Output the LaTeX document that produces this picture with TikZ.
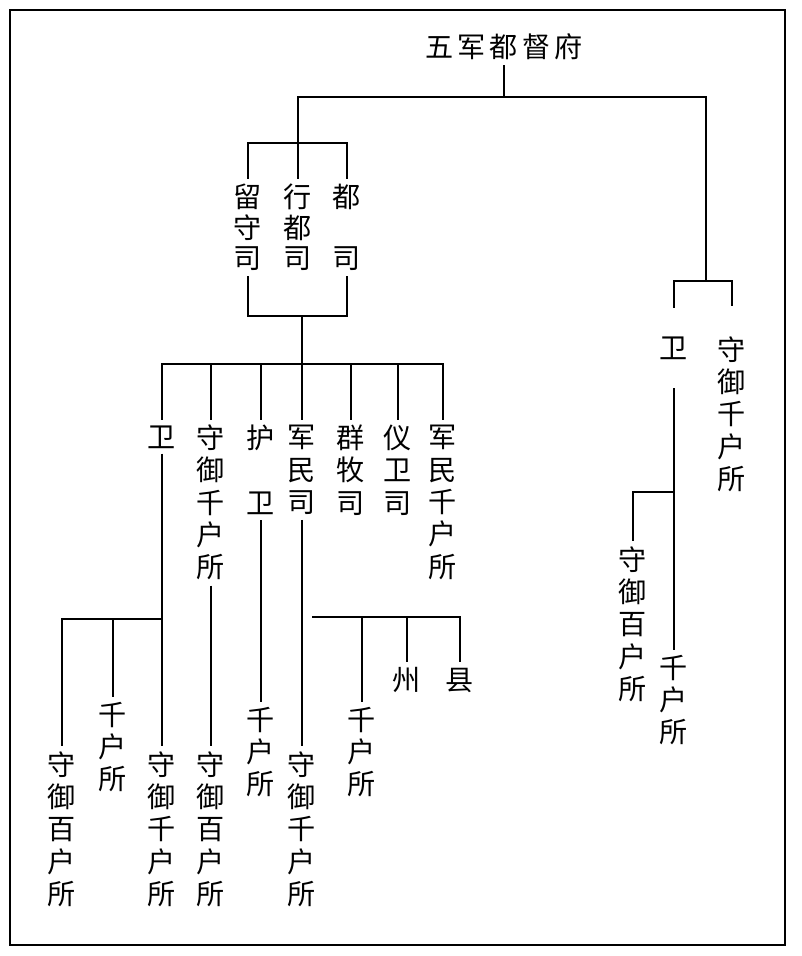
\documentclass[tikz,border=0pt]{standalone}
\usepackage{fontspec}
\newfontfamily\cjk{Noto Sans CJK SC}
\begin{document}
\begin{tikzpicture}[line width=0.9pt]
      \useasboundingbox (0,0) rectangle (20.025,-23.9);
      \draw (0.25,-0.25) rectangle (19.625,-23.625);
      \draw[align=center,font=\cjk\fontsize{20}{23}\selectfont]
        (12.6, -1.175) node (1){五\hspace{3pt}军\hspace{3pt}都\hspace{3pt}督\hspace{3pt}府}
        (6.2, -5.688) node[font=\cjk\fontsize{20}{21.7}\selectfont] (2){留\\守\\司}
        (7.45, -5.688) node[font=\cjk\fontsize{20}{21.7}\selectfont] (3){行\\都\\司}
        (8.675, -5.688) node[font=\cjk\fontsize{20}{21.7}\selectfont] (4){都\\\mbox{}\\司}
        (4.05, -10.925) node (5){卫}
        (5.275, -12.563) node (6){守\\御\\千\\户\\所}
        (6.525, -11.75) node (7){护\\\mbox{}\\卫}
        (7.55, -11.75) node (8){军\\民\\司}
        (8.775, -11.75) node (9){群\\牧\\司}
        (9.95, -11.75) node (10){仪\\卫\\司}
        (11.075, -12.563) node (11){军\\民\\千\\户\\所}
        (1.55, -20.725) node (12){守\\御\\百\\户\\所}
        (2.825, -18.675) node (13){千\\户\\所}
        (4.05, -20.725) node (14){守\\御\\千\\户\\所}
        (5.275, -20.725) node (15){守\\御\\百\\户\\所}
        (6.525, -18.8) node (16){千\\户\\所}
        (7.55, -20.725) node (17){守\\御\\千\\户\\所}
        (9.05, -18.8) node (18){千\\户\\所}
        (10.175, -17.0) node (19){州}
        (11.5, -17.0) node (20){县}
        (16.85, -8.7) node[inner ysep=0.7cm] (21){卫}
        (18.3, -10.35) node[inner ysep=0.75cm] (22){守\\御\\千\\户\\所}
        (15.825, -15.6) node (23){守\\御\\百\\户\\所}
        (16.85, -17.5) node (24){千\\户\\所};
      \coordinate (b1) at (12.6, -2.425);
      \coordinate (b2) at (17.65, -7.025);
      \coordinate (c1) at (7.45, -3.575);
      \coordinate (c2) at (7.55, -7.9);
      \coordinate (c3) at (7.55, -9.1);
      \coordinate (c4) at (4.05, -15.475);
      \coordinate (c5) at (7.8, -15.425);
      \coordinate (c6) at (16.85, -12.3);
      \draw (1) -- (b1);
      \draw (3) |- (b1) -| (b2);
      \draw (2) |- (c1) -| (4);
      \draw (2) |- (c2) -| (4);
      \draw (c2) -- (c3);
      \foreach \n in {5,...,11}
        \draw (c3) -| (\n);
      \draw (5) -- (14);
      \draw (c4) -| (12);
      \draw (c4) -| (13);
      \draw (6) -- (15);
      \draw (7) -- (16);
      \draw (8) -- (17);
      \foreach \n in {18,19,20}
        \draw (c5) -| (\n);
      \draw (21) |- (b2) -| (22);
      \draw (21) -- (24);
      \draw (c6) -| (23);
    \end{tikzpicture}
\end{document}
